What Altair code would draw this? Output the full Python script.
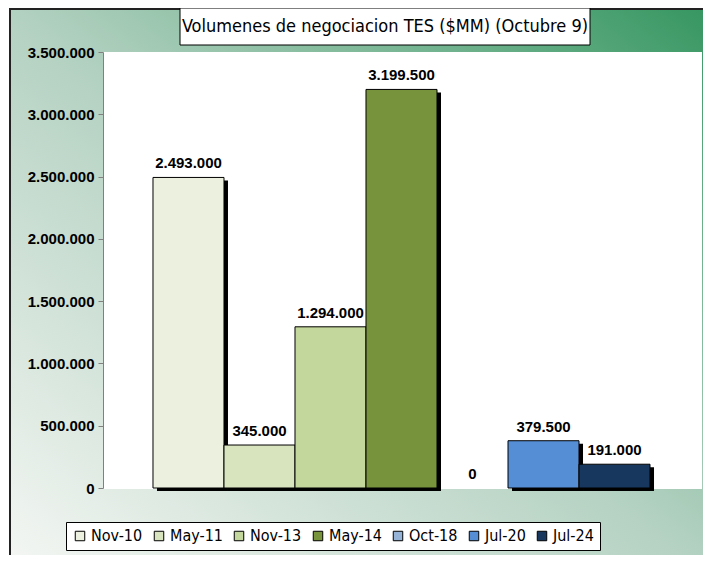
import altair as alt
import pandas as pd

categories = ["Nov-10", "May-11", "Nov-13", "May-14", "Oct-18", "Jul-20", "Jul-24"]
values = [2493000, 345000, 1294000, 3199500, 0, 379500, 191000]
colors = ["#ebf1de", "#d7e4bd", "#c3d69b", "#77933c", "#95b3d7", "#558ed5", "#17375e"]
y_ticks = [0, 500000, 1000000, 1500000, 2000000, 2500000, 3000000, 3500000]
title_text = "Volumenes de negociacion TES ($MM) (Octubre 9)"

NARROW = "Liberation Sans Narrow, Arial Narrow, DejaVu Sans Condensed, sans-serif"
SANS = "Liberation Sans, Arial, sans-serif"

df = pd.DataFrame({
    "cat": categories,
    "val": values,
    "lab": [f"{v:,}".replace(",", ".") for v in values],
})

W, H = 597, 436
one = alt.Data(values=[{}])

xs = alt.X("cat:N", sort=categories, axis=None,
           scale=alt.Scale(paddingInner=0, paddingOuter=0.704))
ys = alt.Y("val:Q",
           scale=alt.Scale(domain=[0, 3500000], nice=False, zero=True),
           axis=alt.Axis(values=y_ticks, title=None, grid=False,
                         labelExpr="replace(format(datum.value, ',d'), /,/g, '.')",
                         labelFont=SANS, labelFontWeight="bold", labelFontSize=15,
                         labelColor="black", labelPadding=4,
                         domainColor="#808080", tickColor="#808080", tickSize=5,
                         zindex=1))

grad = alt.LinearGradient(
    gradient="linear", x1=0, y1=1, x2=1, y2=0,
    stops=[alt.GradientStop(offset=0, color="#f5f7f4"),
           alt.GradientStop(offset=0.5, color="#b3d1c1"),
           alt.GradientStop(offset=0.75, color="#76b592"),
           alt.GradientStop(offset=1, color="#33955f")])

bg = alt.Chart(one).mark_rect(fill=grad, stroke="#222222", strokeWidth=2).encode(
    x=alt.value(-93), x2=alt.value(620), y=alt.value(-43), y2=alt.value(520))

plot_bg = alt.Chart(one).mark_rect(fill="white").encode(
    x=alt.value(0), x2=alt.value(W + 2), y=alt.value(0), y2=alt.value(H + 1))

shadow = alt.Chart(df).transform_filter("datum.val > 0").mark_bar(
    color="black", xOffset=4, yOffset=3).encode(x=xs, y=ys)

bars = alt.Chart(df).transform_filter("datum.val > 0").mark_bar(
    stroke="black", strokeWidth=1).encode(
    x=xs, y=ys,
    color=alt.Color("cat:N", sort=categories,
                    scale=alt.Scale(domain=categories, range=colors),
                    legend=alt.Legend(
                        title=None, orient="none", direction="horizontal",
                        legendX=-37, legendY=470,
                        symbolType="square", symbolSize=90,
                        symbolStrokeColor="black", symbolStrokeWidth=1,
                        labelFont=NARROW, labelFontSize=16, labelColor="black",
                        columnPadding=8, labelOffset=3,
                        fillColor="white", strokeColor="black",
                        padding=6)))

labels = alt.Chart(df).mark_text(baseline="bottom", dy=-6, font=SANS,
                                 fontWeight="bold", fontSize=15, color="black").encode(
    x=xs, y=ys, text="lab:N")

title_box = alt.Chart(one).mark_rect(fill="white", stroke="black", strokeWidth=1).encode(
    x=alt.value(77), x2=alt.value(487), y=alt.value(-44), y2=alt.value(-7))

title = alt.Chart(one).mark_text(font=NARROW, fontSize=18, color="black",
                                 baseline="middle", align="center").encode(
    x=alt.value(282), y=alt.value(-25), text=alt.value(title_text))

chart = alt.layer(bg, plot_bg, shadow, bars, labels, title_box, title).properties(
    width=W, height=H,
    autosize=alt.AutoSizeParams(type="none"),
    padding={"left": 95, "top": 44, "right": 3, "bottom": 67},
).configure_view(stroke=None).configure(background="white")

chart.save("out.html", embed_options={"renderer": "svg", "actions": False})
